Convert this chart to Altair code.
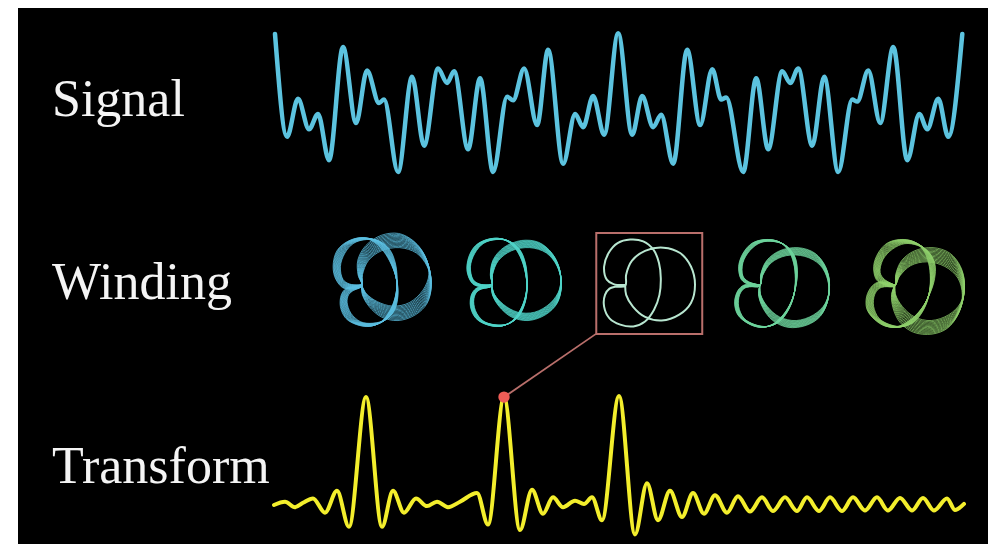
import altair as alt
import pandas as pd

# ---------------- data ----------------
# Signal: extrema (time in samples, amplitude)
signal_t = [0, 12, 23, 34, 43, 54, 68, 81, 92, 104, 109, 123, 137, 149, 163, 172, 179, 193, 205, 218,
            232, 238, 249, 262, 273, 288, 300, 308, 318, 329, 343, 357, 367, 378, 386, 398, 412, 425, 437, 446,
            451, 468, 481, 493, 507, 515, 523, 537, 549, 563, 577, 582, 593, 605, 618, 632, 644, 652, 663, 673, 687]
signal_a = [1.00, -0.49, 0.06, -0.38, -0.16, -0.83, 0.81, -0.29, 0.47, 0.00, 0.05, -1.00, 0.38, -0.62, 0.50, 0.29, 0.46, -0.67, 0.36, -1.00,
            0.09, 0.04, 0.50, -0.32, 0.77, -0.88, -0.16, -0.35, 0.10, -0.46, 1.01, -0.46, 0.10, -0.35, -0.17, -0.88, 0.77, -0.32, 0.49, 0.05,
            0.08, -1.00, 0.36, -0.67, 0.46, 0.29, 0.50, -0.62, 0.38, -1.00, 0.05, 0.02, 0.47, -0.29, 0.81, -0.83, -0.16, -0.38, 0.06, -0.49, 1.00]

# Transform: extrema (frequency, magnitude)
transform_f = [0, 11, 21, 29, 39, 51, 63, 75, 92, 108, 119, 130, 142, 153, 163, 174, 186, 203, 214, 230,
               246, 258, 269, 279, 289, 301, 310, 318, 328, 345, 361, 373, 384, 396, 408, 419, 430, 441, 453, 464,
               476, 488, 499, 511, 523, 533, 545, 556, 568, 579, 591, 603, 614, 626, 638, 649, 660, 673, 681, 690]
transform_a = [0.00, 0.03, -0.02, 0.02, 0.06, -0.07, 0.13, -0.20, 0.99, -0.20, 0.13, -0.07, 0.06, -0.01, 0.03, -0.02, 0.03, 0.11, -0.18, 0.99,
               -0.23, 0.14, -0.08, 0.07, -0.02, 0.04, 0.01, 0.07, -0.14, 1.00, -0.27, 0.20, -0.14, 0.13, -0.11, 0.11, -0.08, 0.09, -0.07, 0.08,
               -0.06, 0.07, -0.055, 0.07, -0.055, 0.07, -0.055, 0.07, -0.055, 0.07, -0.05, 0.07, -0.05, 0.065, -0.05, 0.065, -0.05, 0.06, -0.045, 0.01]

highlight_f = [230]
highlight_a = [0.99]
connector_f = [230, 322]
connector_a = [0.99, 1.57]

# Winding: traced closed curve of the boxed figure, relative to its centre (the cusp)
shape_bx = [0.00, -0.26, -0.41, -0.47, -0.37, -0.17, 0.11, 0.40, 0.63, 0.75, 0.79, 0.76, 0.64, 0.44, 0.18, -0.11, -0.35, -0.47, -0.45, -0.35, -0.23, 0.00,
            0.02, 0.15, 0.44, 0.85, 1.22, 1.46, 1.55, 1.46, 1.20, 0.81, 0.44, 0.17, 0.02, 0.00]
shape_by = [0.00, 0.02, 0.12, 0.41, 0.71, 0.93, 1.01, 0.97, 0.78, 0.49, 0.15, -0.22, -0.55, -0.81, -0.92, -0.88, -0.74, -0.48, -0.22, -0.08, -0.04, -0.02,
            0.23, 0.54, 0.76, 0.83, 0.71, 0.41, 0.01, -0.40, -0.66, -0.79, -0.71, -0.48, -0.22, 0.00]

winding_centre = [-0.15, 2.74, 5.71, 8.70, 11.70]
# rotation (degrees) of each wound copy
winding_angles = [
    [0, 2, 4, 6, 8, 10, 12, 14, 16, 18, 20, 22, 24],
    [0, 1, 2, 3, 4, 5, 6, 7, 8, 9, 10, 11, 12],
    [0],
    [0, -1, -2, -3, -4, -5, -6, -7, -8, -9, -10, -11, -12],
    [0, -2, -4, -6, -8, -10, -12, -14, -16, -18, -20, -22, -24],
]
winding_colors = ["#5cc0e2", "#4fd3c8", "#b8e6d0", "#6dd39c", "#8fd16c"]
box_bx = [-0.644, 1.711]
box_by = [-1.089, 1.156]

labels = ["Signal", "Winding", "Transform"]

# ---------------- tables ----------------
sig_df = pd.DataFrame({"t": signal_t, "a": signal_a})
tr_df = pd.DataFrame({"f": transform_f, "a": transform_a})
hl_df = pd.DataFrame({"f": highlight_f, "a": highlight_a})
con_df = pd.DataFrame({"f": connector_f, "a": connector_a, "i": [0, 1]})

rows = []
for fi, (c, angs) in enumerate(zip(winding_centre, winding_angles)):
    for ci, ang in enumerate(angs):
        for pi, (bx, by) in enumerate(zip(shape_bx, shape_by)):
            rows.append({"fig": fi, "copy": f"{fi}-{ci}", "idx": pi, "bx": bx, "by": by,
                         "ang": ang, "c": c, "main": 1 if (fi == 2) else 0})
wind_df = pd.DataFrame(rows)
box_df = pd.DataFrame({"x": [winding_centre[2] + box_bx[0]], "x2": [winding_centre[2] + box_bx[1]],
                       "y": [box_by[0]], "y2": [box_by[1]]})
lab_df = pd.DataFrame({"label": labels})

# ---------------- scales ----------------
SX = alt.Scale(domain=[0, 687], range=[257, 944.3], nice=False, zero=False)
SY = alt.Scale(domain=[-1, 1], range=[164, 26], nice=False, zero=False)
WX = alt.Scale(domain=[0, 10], range=[350.3, 800.3], nice=False, zero=False)
WY = alt.Scale(domain=[0, 1], range=[277, 232], nice=False, zero=False)
TX = alt.Scale(domain=[0, 690], range=[256, 946], nice=False, zero=False)
TY = alt.Scale(domain=[0, 1], range=[497, 388], nice=False, zero=False)

signal = alt.Chart(sig_df).mark_line(
    interpolate="monotone", strokeWidth=4.5, color="#5cc3df", strokeCap="round", strokeJoin="round"
).encode(
    x=alt.X("t:Q", scale=SX, axis=None),
    y=alt.Y("a:Q", scale=SY, axis=None),
)

wind_base = alt.Chart(wind_df).transform_calculate(
    rad="datum.ang * PI / 180",
).transform_calculate(
    wx="datum.c + datum.bx * cos(datum.rad) - datum.by * sin(datum.rad)",
    wy="datum.bx * sin(datum.rad) + datum.by * cos(datum.rad)",
)

winding = wind_base.transform_filter("datum.main == 0").mark_line(
    interpolate="catmull-rom", strokeWidth=0.9, opacity=0.85
).encode(
    x=alt.X("wx:Q", scale=WX, axis=None),
    y=alt.Y("wy:Q", scale=WY, axis=None),
    detail="copy:N",
    order="idx:Q",
    color=alt.Color("fig:N", scale=alt.Scale(domain=[0, 1, 2, 3, 4], range=winding_colors), legend=None),
)

winding_main = wind_base.transform_filter("datum.main == 1").mark_line(
    interpolate="catmull-rom", strokeWidth=2, color=winding_colors[2]
).encode(
    x=alt.X("wx:Q", scale=WX, axis=None),
    y=alt.Y("wy:Q", scale=WY, axis=None),
    detail="copy:N",
    order="idx:Q",
)

box = alt.Chart(box_df).mark_rect(fill=None, stroke="#b96f6b", strokeWidth=2).encode(
    x=alt.X("x:Q", scale=WX, axis=None),
    x2="x2:Q",
    y=alt.Y("y:Q", scale=WY, axis=None),
    y2="y2:Q",
)

connector = alt.Chart(con_df).mark_line(color="#b96f6b", strokeWidth=1.8).encode(
    x=alt.X("f:Q", scale=TX, axis=None),
    y=alt.Y("a:Q", scale=TY, axis=None),
    order="i:Q",
)

transform = alt.Chart(tr_df).mark_line(
    interpolate="monotone", strokeWidth=4, color="#f3ee2c", strokeCap="round", strokeJoin="round"
).encode(
    x=alt.X("f:Q", scale=TX, axis=None),
    y=alt.Y("a:Q", scale=TY, axis=None),
)

dot = alt.Chart(hl_df).mark_circle(size=130, color="#ef5d57", opacity=1).encode(
    x=alt.X("f:Q", scale=TX, axis=None),
    y=alt.Y("a:Q", scale=TY, axis=None),
)

text = alt.Chart(lab_df).mark_text(
    font="Liberation Serif", fontSize=52, color="#f4f4f4", align="left", baseline="alphabetic"
).encode(
    x=alt.value(34),
    y=alt.Y("label:N", scale=alt.Scale(type="point", domain=labels, range=[107.5, 474.7], padding=0), axis=None),
    text="label:N",
)

chart = alt.layer(signal, winding, winding_main, box, connector, transform, dot, text).resolve_scale(
    x="independent", y="independent", color="independent"
).properties(
    width=970, height=536, background="white",
    padding={"left": 10, "top": 0, "right": 0, "bottom": 0},
).configure_view(fill="black", stroke=None)

chart.save("out.html", embed_options={"renderer": "svg", "actions": False})
